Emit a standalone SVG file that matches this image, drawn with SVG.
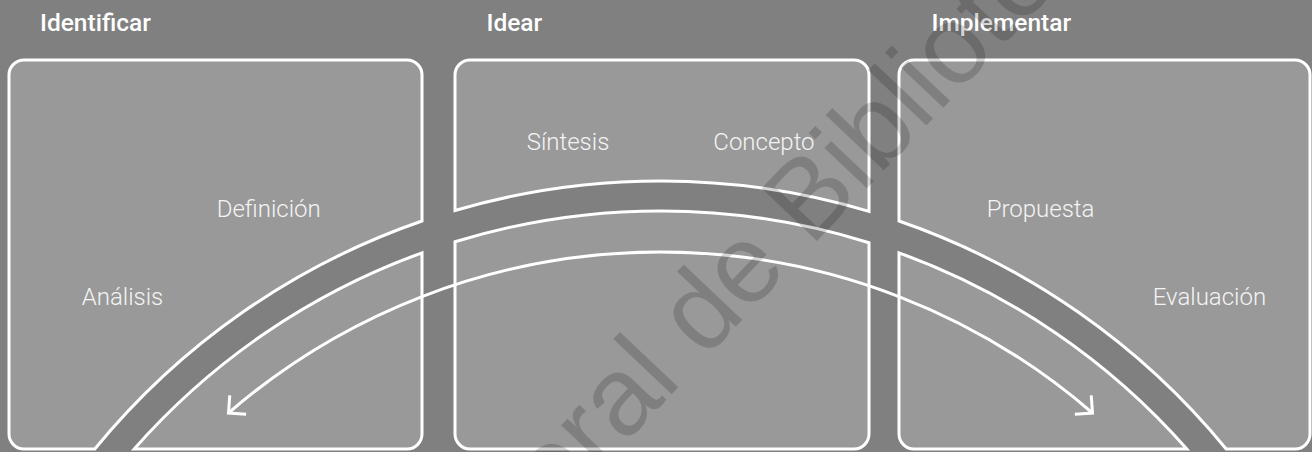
<svg xmlns="http://www.w3.org/2000/svg" width="1312" height="452" viewBox="0 0 1312 452">
  <defs>
    <style>
      .panel { fill: #999999; stroke: #ffffff; stroke-width: 3; stroke-linejoin: miter; }
      .hdr { font-family: Roboto, "Liberation Sans", sans-serif; font-weight: 500; font-size: 24.5px; fill: #ffffff; }
      .lbl { font-family: Roboto, "Liberation Sans", sans-serif; font-weight: 300; font-size: 24px; fill: #f4f4f4; }
      .arrow { fill: none; stroke: #ffffff; stroke-width: 3; }
      .wm { font-family: "Liberation Sans", Arial, sans-serif; font-size: 111px; fill: #000000; fill-opacity: 0.165; }
    </style>
    <marker id="chev" markerUnits="userSpaceOnUse" markerWidth="40" markerHeight="40" refX="0" refY="0" orient="auto-start-reverse" overflow="visible">
      <path d="M -12.5 -12.5 L 0 0 L -12.5 12.5" fill="none" stroke="#ffffff" stroke-width="3"/>
    </marker>
  </defs>
  <rect x="0" y="0" width="1312" height="452" fill="#808080"/>

  <g id="identificar">
    <text class="hdr" x="40" y="31">Identificar</text>
    <path class="panel" d="M 24 60 H 407 A 15 15 0 0 1 422 75 V 221 A 731 731 0 0 0 94.8 449 H 24 A 15 15 0 0 1 9 434 V 75 A 15 15 0 0 1 24 60 Z"/>
    <path class="panel" d="M 134.2 449 A 701 701 0 0 1 422 252.8 V 434 A 15 15 0 0 1 407 449 Z"/>
    <text class="lbl" x="216.7" y="216.7">Definición</text>
    <text class="lbl" x="81.7" y="305">Análisis</text>
  </g>

  <g id="idear">
    <text class="hdr" x="486.5" y="31">Idear</text>
    <path class="panel" d="M 470 60 H 854 A 15 15 0 0 1 869 75 V 211.4 A 731 731 0 0 0 455 210.5 V 75 A 15 15 0 0 1 470 60 Z"/>
    <path class="panel" d="M 455 241.8 A 701 701 0 0 1 869 242.7 V 434 A 15 15 0 0 1 854 449 H 470 A 15 15 0 0 1 455 434 Z"/>
    <text class="lbl" x="526.7" y="150">Síntesis</text>
    <text class="lbl" x="713.3" y="150">Concepto</text>
  </g>

  <g id="implementar">
    <text class="hdr" x="931.5" y="31">Implementar</text>
    <path class="panel" d="M 914 60 H 1295 A 15 15 0 0 1 1310 75 V 434 A 15 15 0 0 1 1295 449 H 1226.2 A 731 731 0 0 0 899 221 V 75 A 15 15 0 0 1 914 60 Z"/>
    <path class="panel" d="M 899 252.8 A 701 701 0 0 1 1186.8 449 H 914 A 15 15 0 0 1 899 434 Z"/>
    <text class="lbl" x="986.7" y="216.7">Propuesta</text>
    <text class="lbl" x="1152.7" y="305">Evaluación</text>
  </g>

  <g id="connectors">
    <path class="arrow" d="M 228.5 413 A 660 660 0 0 1 1092.5 413" marker-start="url(#chev)" marker-end="url(#chev)"/>
  </g>

  <text class="wm" transform="translate(556 516) rotate(-46.5)">eral de Bibliote</text>
</svg>
